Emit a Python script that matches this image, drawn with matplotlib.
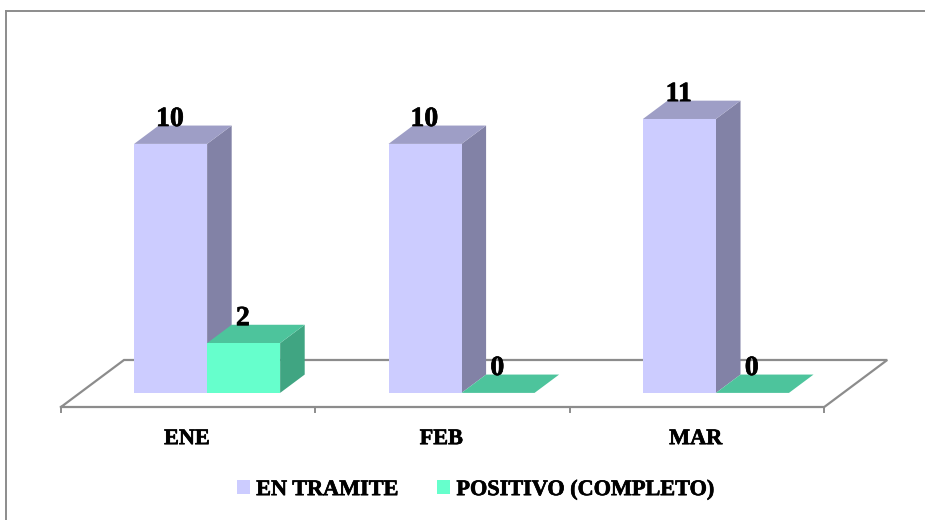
import matplotlib
matplotlib.use("Agg")
import matplotlib.pyplot as plt
import matplotlib.patheffects as pe
from matplotlib.patches import Polygon, Patch

#data
months = ["ENE", "FEB", "MAR"]
en_tramite = [10, 10, 11]
positivo = [2, 0, 0]
series_names = ["EN TRAMITE", "POSITIVO (COMPLETO)"]
#end data

plt.rcParams["font.family"] = ["Liberation Serif", "DejaVu Serif"]

# fake 3d: each depth step moves a point right and up by these amounts
depth_x = 0.2476
depth_y = 1.888
gap = 0.213
bar_w = 0.287
front, back = 0.3, 0.69
grey = "#8c8c8c"
# the reference font is heavier than Liberation bold
heavy = [pe.withStroke(linewidth=0.5, foreground="black")]

fig = plt.figure(figsize=(9.25, 5.2), dpi=100)
ax = fig.add_axes([0, 0, 1, 1])
ax.set_xlim(-0.2398, 3.396)
ax.set_ylim(-4.538, 16.345)
ax.axis("off")


def pt(x, val, depth):
    return (x + depth * depth_x, val + depth * depth_y)


def bar3d(x, val, face, side, top):
    x2 = x + bar_w
    if val > 0:
        ax.add_patch(Polygon([pt(x2, 0, front), pt(x2, 0, back), pt(x2, val, back), pt(x2, val, front)],
                             fc=side, ec="none", zorder=3))
        ax.add_patch(Polygon([pt(x, 0, front), pt(x2, 0, front), pt(x2, val, front), pt(x, val, front)],
                             fc=face, ec="none", zorder=4))
    ax.add_patch(Polygon([pt(x, val, front), pt(x2, val, front), pt(x2, val, back), pt(x, val, back)],
                         fc=top, ec="none", zorder=3))
    lx, ly = pt(x + bar_w / 2, val, front)
    ax.text(lx - 0.003, ly + 0.98, str(val), ha="center", va="center", fontsize=20, fontweight="bold",
            zorder=6, path_effects=heavy)


# floor
n = len(months)
ax.plot(*zip(pt(0, 0, 0), pt(0, 0, 1), pt(n, 0, 1), pt(n, 0, 0), pt(0, 0, 0)),
        color=grey, lw=1.6, solid_joinstyle="miter", zorder=1)
for i in range(n + 1):
    ax.plot([i, i], [0, -0.2], color=grey, lw=1.4, zorder=1)

for i in range(n):
    bar3d(i + gap, en_tramite[i], "#ccccff", "#8282a6", "#9e9ec6")
    bar3d(i + gap + bar_w, positivo[i], "#66ffcc", "#40a582", "#4dc49c")
    ax.text(i + 0.5 - 0.005, -1.29, months[i], ha="center", va="center", fontsize=16, fontweight="bold",
            path_effects=heavy)

# outer frame, only top and left show up
ax.plot([-0.2162, -0.2162], [-4.538, 15.9], color=grey, lw=1.4, zorder=1)
ax.plot([-0.2162, 3.396], [15.9, 15.9], color=grey, lw=1.4, zorder=1)

handles = [Patch(fc="#ccccff", ec="none"), Patch(fc="#66ffcc", ec="none")]
leg = ax.legend(handles, series_names, loc="center", bbox_to_anchor=(0.5146, 0.0575), ncol=2, frameon=False,
                prop={"size": 16, "weight": "bold"}, handlelength=0.585, handleheight=0.585,
                handletextpad=0.27, columnspacing=1.75, borderpad=0)
for t in leg.get_texts():
    t.set_path_effects(heavy)

plt.savefig("out.png", dpi=100)
